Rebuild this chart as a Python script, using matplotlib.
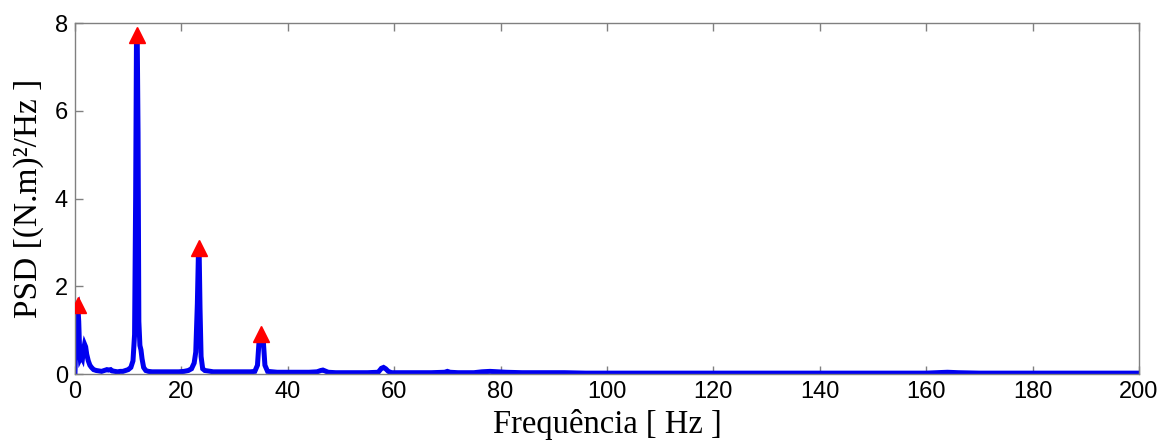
import matplotlib
matplotlib.use("Agg")
import matplotlib.pyplot as plt

# PSD curve key points (frequency Hz, PSD)
freq = [0.0, 0.2, 0.4, 0.55, 0.7, 0.85, 1.0, 1.2, 1.4, 1.6, 1.8, 2.0, 2.2, 2.5, 2.8, 3.1, 3.5, 4.0,
        4.5, 5.0, 5.5, 6.0, 6.3, 6.7, 7.0, 7.5, 8.0, 8.5, 9.0, 9.5, 10.0, 10.5, 10.9, 11.2, 11.4,
        11.55, 11.7, 11.85, 12.0, 12.2, 12.4, 12.6, 12.9, 13.3, 13.8, 14.5, 15.5, 16.5, 17.5,
        18.5, 19.5, 20.5, 21.3, 21.9, 22.4, 22.7, 23.0, 23.2, 23.35, 23.5, 23.7, 24.0, 24.4,
        25.0, 25.5, 26.0, 27.0, 28.0, 29.0, 30.0, 31.0, 32.0, 33.0, 33.8, 34.3, 34.6, 34.8, 35.0,
        35.2, 35.4, 35.7, 36.2, 37.0, 38.0, 40.0, 42.0, 44.0, 45.5, 46.2, 46.6, 47.0, 47.6,
        49.0, 52.0, 55.0, 57.0, 57.6, 58.0, 58.4, 58.9, 59.5, 61.0, 64.0, 67.0, 69.5, 70.0,
        70.5, 72.0, 75.0, 76.5, 78.0, 79.5, 81.0, 84.0, 88.0, 92.0, 96.0, 100.0, 110.0, 120.0,
        130.0, 140.0, 150.0, 160.0, 164.0, 166.0, 170.0, 180.0, 190.0, 200.0]
psd = [0.05, 0.9, 1.45, 1.5, 1.2, 0.6, 0.35, 0.4, 0.35, 0.55, 0.68, 0.62, 0.45, 0.3, 0.2, 0.15, 0.1, 0.08,
       0.07, 0.06, 0.08, 0.1, 0.09, 0.1, 0.07, 0.06, 0.05, 0.06, 0.06, 0.08, 0.1, 0.15, 0.3, 0.9, 4.0,
       7.5, 7.65, 5.5, 1.2, 0.65, 0.55, 0.35, 0.15, 0.08, 0.06, 0.05, 0.05, 0.05, 0.05,
       0.05, 0.05, 0.06, 0.08, 0.12, 0.25, 0.5, 1.6, 2.75, 2.7, 1.5, 0.4, 0.12, 0.08,
       0.07, 0.06, 0.05, 0.05, 0.05, 0.05, 0.05, 0.05, 0.05, 0.05, 0.06, 0.2, 0.75, 0.8, 0.8,
       0.8, 0.75, 0.2, 0.06, 0.05, 0.04, 0.04, 0.04, 0.04, 0.05, 0.08, 0.09, 0.07, 0.04,
       0.03, 0.03, 0.03, 0.04, 0.13, 0.15, 0.12, 0.06, 0.03, 0.03, 0.03, 0.03, 0.04, 0.06,
       0.04, 0.03, 0.03, 0.05, 0.06, 0.05, 0.04, 0.03, 0.03, 0.03, 0.02, 0.02, 0.02, 0.02,
       0.02, 0.02, 0.02, 0.02, 0.04, 0.03, 0.02, 0.02, 0.02, 0.02]

# Peak markers (frequency Hz, PSD)
peak_freq = [0.5, 11.6, 23.3, 35.0]
peak_psd = [1.57, 7.73, 2.87, 0.91]

xticks = [0, 20, 40, 60, 80, 100, 120, 140, 160, 180, 200]
yticks = [0, 2, 4, 6, 8]

fig = plt.figure(figsize=(11.61, 4.46), dpi=100)
ax = fig.add_axes([0.0646, 0.1614, 0.9164, 0.787])

ax.plot(freq, psd, color="#0000f0", lw=3.6, solid_joinstyle="miter", zorder=2)
ax.plot(peak_freq, peak_psd, linestyle="none", marker="^", markersize=12,
        color="#ff0000", markeredgecolor="#ff0000", zorder=3)

ax.set_xlim(0, 200)
ax.set_ylim(0, 8)
ax.set_xticks(xticks)
ax.set_yticks(yticks)
for s in ax.spines.values():
    s.set_color("#808080")
    s.set_linewidth(1.0)
ax.tick_params(direction="in", length=6, width=1.0, color="#808080",
               top=True, right=False, labelsize=17, pad=5)
for lab in ax.get_xticklabels() + ax.get_yticklabels():
    lab.set_fontfamily("Liberation Sans")

ax.set_xlabel("Frequência [ Hz ]", fontsize=23.5, family="Liberation Serif", labelpad=4)
ax.set_ylabel("PSD [(N.m)²/Hz ]", fontsize=24, family="Liberation Serif", labelpad=8)

fig.savefig("out.png", dpi=100)
